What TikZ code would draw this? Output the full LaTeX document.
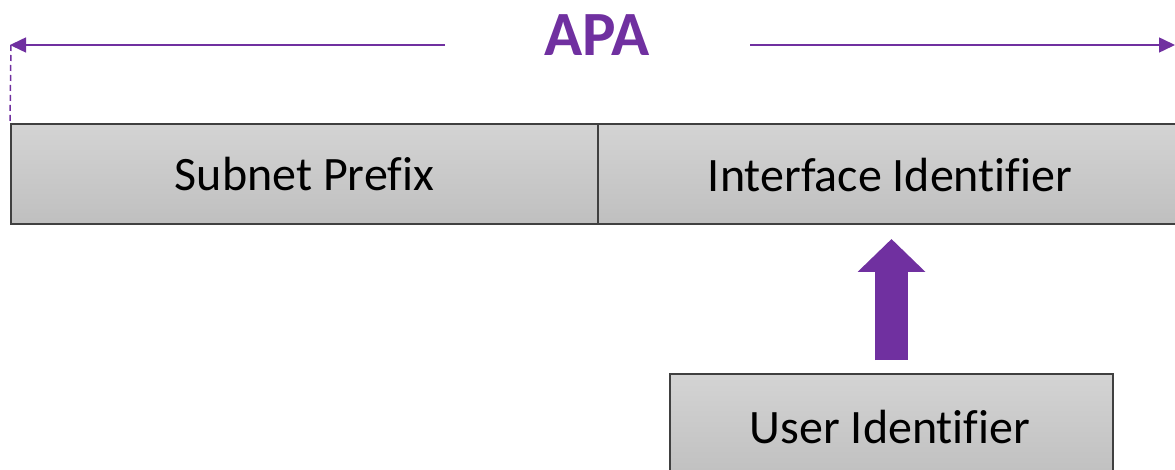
\documentclass[tikz,border=0pt]{standalone}
\usepackage{fontspec}
\setmainfont[Ligatures=NoCommon]{Carlito}
\usetikzlibrary{arrows.meta}
\definecolor{apapurple}{HTML}{7030A0}
\tikzset{
	field/.style={draw=black!75, line width=2pt, top color=black!17, bottom color=black!25, anchor=north west, inner sep=0pt},
	label/.style={font=\fontsize{48}{56}\selectfont},
	span/.style={apapurple, line width=1.5pt},
	bigarrow/.style={apapurple, line width=33pt, -{Triangle[width=66pt,length=33pt]}}
}
\begin{document}
\begin{tikzpicture}[x=1pt,y=-1pt]
				\useasboundingbox (0,0) rectangle (1175,470);
				\clip (0,0) rectangle (1175,470);
				
				\node[field, minimum width=587pt, minimum height=100pt] (subnet) at (10,123) {};
				\node[field, minimum width=590pt, minimum height=100pt] (iface) at (597,123) {};
				\node[field, minimum width=443pt, minimum height=105pt] (user) at (669,373) {};
				
				\node[label] at (subnet.center) {Subnet Prefix};
				\node[label] at (890,175) {Interface Identifier};
				\node[label] at (890,427) {User Identifier};
				
				\node[apapurple, font=\fontsize{63}{70}\selectfont\bfseries] (apa) at (597,35) {APA};
				
				\coordinate (lend) at (10,45);
				\coordinate (rend) at (1175,45);
				\draw[span, -{Triangle[width=15pt,length=16pt]}] (445,45) -- (lend);
				\draw[span, -{Triangle[width=15pt,length=16pt]}] (750,45) -- (rend);
				\draw[span, dash pattern=on 6pt off 4pt] (11,45) -- (subnet.north west);
				
				\draw[bigarrow, shorten <=13pt, shorten >=14pt] (user.north) -- (user.north |- iface.south);
			\end{tikzpicture}
\end{document}
